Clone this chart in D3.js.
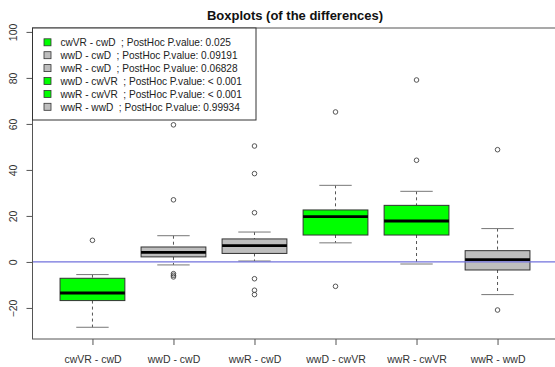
<!DOCTYPE html>
<html>
<head>
<meta charset="utf-8">
<script src="https://cdn.jsdelivr.net/npm/d3@7"></script>
<style>
body { margin: 0; background: #fff; }
text { font-family: Arial, "Liberation Sans", sans-serif; }
</style>
</head>
<body>
<svg id="visualisation" width="555" height="367"></svg>
<script>
// comparisons, in plotting order
var categories = ["cwVR - cwD", "wwD - cwD", "wwR - cwD", "wwD - cwVR", "wwR - cwVR", "wwR - wwD"];

// box stats: lower whisker, Q1, median, Q3, upper whisker
var lowWhisker = [-28.4, -1.3, 0.4, 8.3, -0.9, -14.2];
var q1 = [-16.8, 2.2, 3.7, 11.7, 11.7, -3.5];
var median = [-13.5, 4.2, 7.1, 19.7, 17.8, 1.0];
var q3 = [-7.1, 6.5, 10.0, 22.6, 24.6, 4.9];
var highWhisker = [-5.5, 11.4, 13.0, 33.3, 30.7, 14.5];

var outliers = [
    [9.4],
    [59.6, 27.0, -5.1, -5.8, -6.5],
    [50.4, 38.4, 21.4, -7.3, -12.3, -14.2],
    [65.2, -10.6],
    [79.1, 44.2],
    [48.8, -20.9]
];

// significant post hoc result -> green
var significant = [true, false, false, true, true, false];
var pValues = ["0.025", "0.09191", "0.06828", "< 0.001", "< 0.001", "0.99934"];

var yTicks = [-20, 0, 20, 40, 60, 80, 100];

var vis = d3.select("#visualisation"),
WIDTH = 555,
HEIGHT = 367,
PLOT = {
    top: 28,
    bottom: 339,
    left: 32.5,
    right: 557.5
},

xScale = d3.scaleLinear()
    .range([PLOT.left, PLOT.right])
    .domain([0.26, 6.74]),

yScale = d3.scaleLinear()
    .range([PLOT.bottom, PLOT.top])
    .domain([-33.5, 101.7]);

var boxWidth = xScale(1.4) - xScale(1),
capWidth = xScale(1.2) - xScale(1);

vis.append("rect")
.attr("width", WIDTH)
.attr("height", HEIGHT)
.attr("fill", "#fff");

vis.append("text")
.attr("x", (PLOT.left + PLOT.right) / 2)
.attr("y", 20)
.style("text-anchor", "middle")
.style("font-weight", "bold")
.style("font-size", "13px")
.attr("fill", "#111")
.text("Boxplots (of the differences)");

// y axis, labels turned like R does
var yAxis = d3.axisLeft()
.scale(yScale)
.tickValues(yTicks)
.tickSize(6);

var yg = vis.append("g")
.attr("transform", "translate(" + PLOT.left + ",0)")
.call(yAxis);
yg.select(".domain").remove();
yg.selectAll("line").attr("stroke", "#555");
yg.selectAll("text")
.attr("transform", "rotate(-90)")
.attr("x", 0)
.attr("y", -15.5)
.attr("dy", 0)
.style("text-anchor", "middle")
.style("font-size", "10.5px")
.attr("fill", "#333");

var xAxis = d3.axisBottom()
.scale(xScale)
.tickValues(d3.range(1, categories.length + 1))
.tickFormat(function (d) {
    return categories[d - 1];
})
.tickSize(6);

var xg = vis.append("g")
.attr("transform", "translate(0," + PLOT.bottom + ")")
.call(xAxis);
xg.select(".domain").remove();
xg.selectAll("line").attr("stroke", "#555");
xg.selectAll("text")
.attr("y", 24)
.attr("dy", 0)
.style("font-size", "10.5px")
.attr("fill", "#333");

// boxes
var boxes = vis.selectAll(".box")
.data(categories)
.enter()
.append("g")
.attr("class", "box");

boxes.append("line")
.attr("x1", function (d, i) { return xScale(i + 1); })
.attr("x2", function (d, i) { return xScale(i + 1); })
.attr("y1", function (d, i) { return yScale(highWhisker[i]); })
.attr("y2", function (d, i) { return yScale(q3[i]); })
.attr("stroke", "#555")
.attr("stroke-dasharray", "3,3");

boxes.append("line")
.attr("x1", function (d, i) { return xScale(i + 1); })
.attr("x2", function (d, i) { return xScale(i + 1); })
.attr("y1", function (d, i) { return yScale(q1[i]); })
.attr("y2", function (d, i) { return yScale(lowWhisker[i]); })
.attr("stroke", "#555")
.attr("stroke-dasharray", "3,3");

boxes.append("line")
.attr("x1", function (d, i) { return xScale(i + 1) - capWidth; })
.attr("x2", function (d, i) { return xScale(i + 1) + capWidth; })
.attr("y1", function (d, i) { return yScale(highWhisker[i]); })
.attr("y2", function (d, i) { return yScale(highWhisker[i]); })
.attr("stroke", "#777");

boxes.append("line")
.attr("x1", function (d, i) { return xScale(i + 1) - capWidth; })
.attr("x2", function (d, i) { return xScale(i + 1) + capWidth; })
.attr("y1", function (d, i) { return yScale(lowWhisker[i]); })
.attr("y2", function (d, i) { return yScale(lowWhisker[i]); })
.attr("stroke", "#777");

boxes.append("rect")
.attr("x", function (d, i) { return xScale(i + 1) - boxWidth; })
.attr("y", function (d, i) { return yScale(q3[i]); })
.attr("width", boxWidth * 2)
.attr("height", function (d, i) { return yScale(q1[i]) - yScale(q3[i]); })
.attr("fill", function (d, i) { return significant[i] ? "#00ff00" : "#bebebe"; })
.attr("stroke", "#333");

boxes.append("line")
.attr("x1", function (d, i) { return xScale(i + 1) - boxWidth; })
.attr("x2", function (d, i) { return xScale(i + 1) + boxWidth; })
.attr("y1", function (d, i) { return yScale(median[i]); })
.attr("y2", function (d, i) { return yScale(median[i]); })
.attr("stroke", "#000")
.attr("stroke-width", 2.8);

boxes.selectAll("circle")
.data(function (d, i) {
    return outliers[i].map(function (v) { return { x: i + 1, v: v }; });
})
.enter()
.append("circle")
.attr("cx", function (d) { return xScale(d.x); })
.attr("cy", function (d) { return yScale(d.v); })
.attr("r", 2.3)
.attr("fill", "none")
.attr("stroke", "#444")
.attr("stroke-width", 0.9);

// reference line at zero
vis.append("line")
.attr("x1", PLOT.left)
.attr("x2", PLOT.right)
.attr("y1", yScale(0))
.attr("y2", yScale(0))
.attr("stroke", "#7272dc")
.attr("stroke-width", 1.2);

// plot frame
vis.append("rect")
.attr("x", PLOT.left)
.attr("y", PLOT.top)
.attr("width", PLOT.right - PLOT.left)
.attr("height", PLOT.bottom - PLOT.top)
.attr("fill", "none")
.attr("stroke", "#555");

// legend
var legend = vis.append("g")
.attr("transform", "translate(" + PLOT.left + "," + PLOT.top + ")");

legend.append("rect")
.attr("width", 223.5)
.attr("height", 92)
.attr("fill", "#fff")
.attr("stroke", "#333");

var rows = legend.selectAll(".row")
.data(categories)
.enter()
.append("g")
.attr("class", "row")
.attr("transform", function (d, i) { return "translate(0," + (14.3 + i * 12.9) + ")"; });

rows.append("rect")
.attr("x", 11.5)
.attr("y", -3.5)
.attr("width", 7)
.attr("height", 7)
.attr("fill", function (d, i) { return significant[i] ? "#00ff00" : "#bebebe"; })
.attr("stroke", "#333")
.attr("stroke-width", 0.8);

rows.append("text")
.attr("x", 28)
.attr("y", 3.8)
.style("font-size", "10.1px")
.attr("fill", "#222")
.attr("xml:space", "preserve")
.style("white-space", "pre")
.text(function (d, i) {
    return d + "  ; PostHoc P.value: " + pValues[i];
});
</script>
</body>
</html>
